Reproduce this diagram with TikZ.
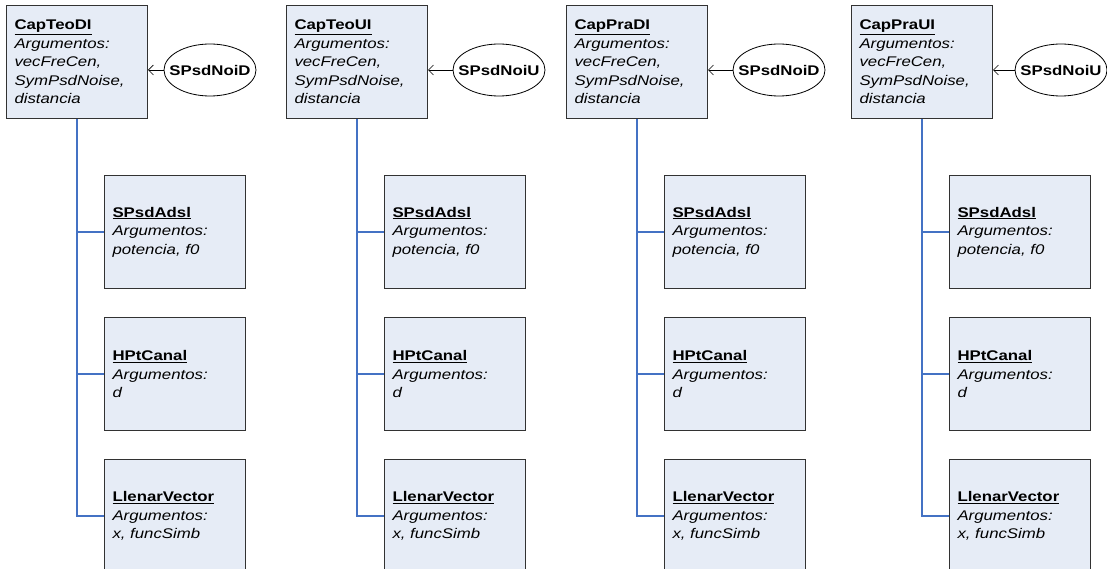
\documentclass[tikz,border=0pt]{standalone}
\usepackage{fontspec}
\setmainfont{Liberation Sans}[FakeStretch=1.2]
\usetikzlibrary{arrows.meta, positioning, shapes.geometric}
\definecolor{boxfill}{RGB}{230,236,246}
\definecolor{boxline}{RGB}{50,50,50}
\definecolor{linkblue}{RGB}{68,114,196}

\begin{document}
\begin{tikzpicture}[x=1pt, y=-1pt,
      every node/.style={font=\fontsize{14}{18.5}\selectfont},
      box/.style={
        rectangle, draw=boxline, fill=boxfill, line width=1pt,
        minimum width=141pt, minimum height=113pt,
        text width=125pt, inner xsep=8pt, inner ysep=0pt, align=left
      },
      noise/.style={
        ellipse, draw=black, line width=0.8pt, fill=white,
        minimum width=92pt, minimum height=52pt, inner sep=0pt,
        font=\fontsize{14}{16}\selectfont\bfseries
      },
      arr/.style={-{Straight Barb[length=5pt, width=10pt]}, line width=0.6pt, black},
      link/.style={draw=linkblue, line width=1.3pt}
    ]
      \useasboundingbox (0,0) rectangle (1107,569);
      \clip (0,0) rectangle (1107,569);
      \foreach \x/\fname/\nname/\ex [count=\i] in
          {7/CapTeoDI/SPsdNoiD/210, 287/CapTeoUI/SPsdNoiU/499,
           567/CapPraDI/SPsdNoiD/779, 852/CapPraUI/SPsdNoiU/1061}{
        % calling function
        \node[box] (cap\i) at (\x+70, 62) {
          \underline{\textbf{\fname}}\\
          \textit{Argumentos:}\\
          \textit{vecFreCen,}\\
          \textit{SymPsdNoise,}\\
          \textit{distancia}
        };
        \node[noise] (noi\i) at (\ex, 70) {\makebox[0pt]{\nname}};
        % called functions
        \node[box] (adsl\i) at (\x+168, 232) {
          \underline{\textbf{SPsdAdsl}}\\
          \textit{Argumentos:}\\
          \textit{potencia, f0}
        };
        \node[box, below=28pt of adsl\i] (can\i) {
          \underline{\textbf{HPtCanal}}\\
          \textit{Argumentos:}\\
          \textit{d}
        };
        \node[box, below=28pt of can\i] (vec\i) {
          \underline{\textbf{LlenarVector}}\\
          \textit{Argumentos:}\\
          \textit{x, funcSimb}
        };
        \draw[arr] (noi\i.west) -- (noi\i.west -| cap\i.east);
        \draw[link] (cap\i.south) |- (vec\i.west);
        \draw[link] (cap\i.south |- adsl\i.west) -- (adsl\i.west);
        \draw[link] (cap\i.south |- can\i.west) -- (can\i.west);
      }
    \end{tikzpicture}
\end{document}
